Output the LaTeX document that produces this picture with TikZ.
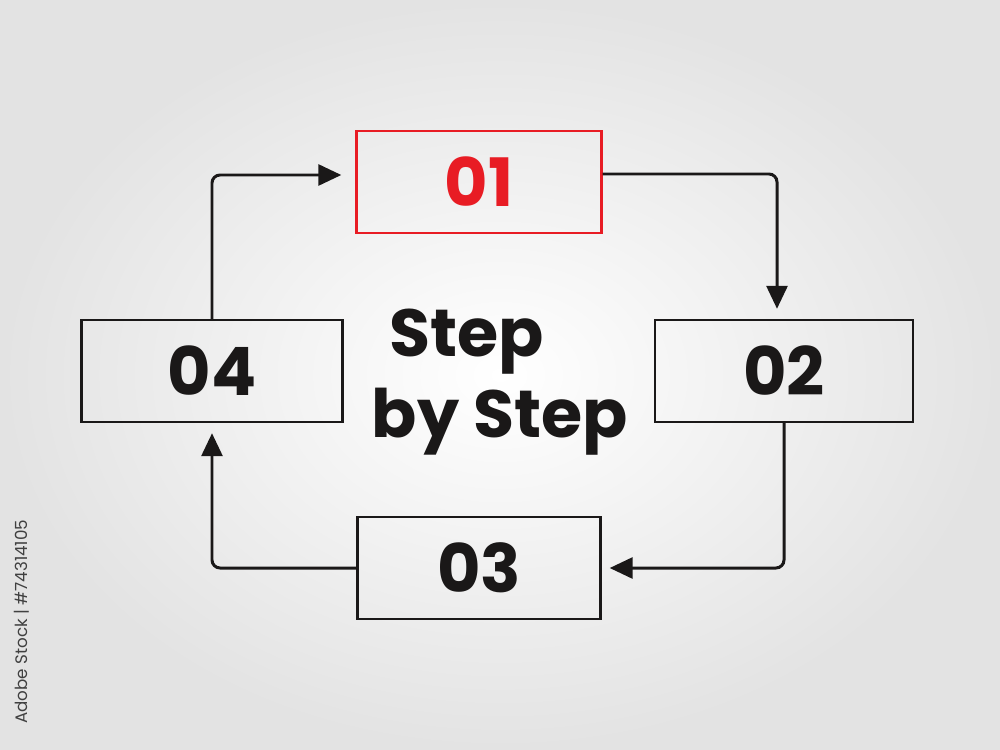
\documentclass[tikz,border=0pt]{standalone}
\usepackage{fontspec}
\setmainfont{Poppins}
\usetikzlibrary{arrows.meta}
\definecolor{stepred}{RGB}{232,28,36}
\definecolor{inkblack}{RGB}{26,24,24}

\begin{document}
\begin{tikzpicture}[x=0.02cm,y=-0.02cm,
    stepbox/.style={draw=inkblack,line width=1.4pt,minimum width=4.95cm,minimum height=2.04cm,
                    font=\fontsize{38}{40}\selectfont\bfseries,text=inkblack,inner sep=0pt},
    redbox/.style={stepbox,draw=stepred,text=stepred},
    flow/.style={draw=inkblack,line width=1.7pt,rounded corners=0.16cm,
                 -{Triangle[length=0.46cm,width=0.42cm]}}]
   % background
   \useasboundingbox (0,0) rectangle (1000,750);
   \shade[inner color=white,outer color=black!11] (0,0) rectangle (1000,750);

   % the four steps
   \node[redbox,minimum width=4.9cm] (s01) at (479,182) {01};
   \node[stepbox,minimum width=5.16cm] (s02) at (784,371) {02};
   \node[stepbox,minimum width=4.86cm] (s03) at (479,568) {03};
   \node[stepbox,minimum width=5.22cm] (s04) at (212,371) {04};

   % title
   \node[align=left,text=inkblack,font=\fontsize{38}{46}\selectfont\bfseries] (title) at (500,382)
      {\hspace*{0.35cm}Step\\by Step};

   % connectors
   \draw[flow,shorten >=0.2cm] ([yshift=0.16cm]s01.east) -| ([xshift=-0.14cm]s02.north);
   \draw[flow,shorten >=0.16cm] (s02.south) |- (s03.east);
   \draw[flow,shorten >=0.2cm] (s03.west) -| (s04.south);
   \draw[flow,shorten >=0.28cm] (s04.north) |- ([yshift=0.14cm]s01.west);

   % side label
   \node[rotate=90,anchor=west,text=black!75,font=\fontsize{9.5}{11}\selectfont] (tag) at (22,730)
      {Adobe Stock | \#74314105};
\end{tikzpicture}
\end{document}
